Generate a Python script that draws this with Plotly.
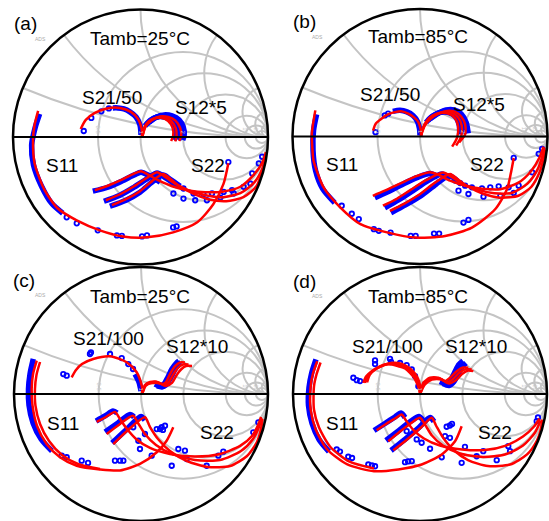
import numpy as np
import plotly.graph_objects as go

# ---------------- S-parameter data (reflection-plane values: [re, im]) ----------------
# Panel (a): Tamb = 25 C, S21/50, S12*5
a_s11_model = [(-0.803, 0.205), (-0.831, 0.094), (-0.843, -0.024), (-0.831, -0.205), (-0.752, -0.417),
               (-0.650, -0.559), (-0.500, -0.654), (-0.319, -0.732), (-0.138, -0.780), (0.051, -0.787),
               (0.256, -0.748), (0.445, -0.669), (0.571, -0.528), (0.650, -0.370), (0.689, -0.205)]
a_s11_meas_dense = [(-0.791, 0.181), (-0.827, 0.071), (-0.854, -0.063), (-0.839, -0.220), (-0.776, -0.386),
                    (-0.697, -0.520), (-0.610, -0.598)]
a_s11_meas = [(-0.579, -0.630), (-0.500, -0.677), (-0.335, -0.732), (-0.185, -0.772), (-0.146, -0.776),
              (0.012, -0.780), (0.051, -0.772), (0.256, -0.709), (0.283, -0.701), (0.689, -0.197)]
a_s22_model_1 = [(-0.358, -0.417), (-0.256, -0.382), (-0.146, -0.335), (-0.051, -0.287), (0.004, -0.268),
                 (0.059, -0.295), (0.138, -0.339), (0.248, -0.386), (0.390, -0.421), (0.508, -0.433),
                 (0.642, -0.429), (0.783, -0.390), (0.886, -0.299), (0.953, -0.205), (0.984, -0.118)]
a_s22_model_2 = [(-0.272, -0.496), (-0.161, -0.449), (-0.051, -0.386), (0.059, -0.315), (0.130, -0.276),
                 (0.185, -0.307), (0.264, -0.362), (0.374, -0.417), (0.508, -0.457), (0.642, -0.472),
                 (0.783, -0.441), (0.894, -0.354), (0.957, -0.244), (0.988, -0.126)]
a_s22_model_3 = [(-0.224, -0.535), (-0.114, -0.488), (-0.004, -0.425), (0.091, -0.346), (0.177, -0.291),
                 (0.224, -0.319), (0.295, -0.378), (0.406, -0.441), (0.531, -0.488), (0.673, -0.504),
                 (0.807, -0.472), (0.909, -0.386), (0.955, -0.268), (0.985, -0.150)]
a_s22_meas_dense_1 = [(-0.374, -0.425), (-0.256, -0.394), (-0.146, -0.346), (-0.051, -0.299), (0.004, -0.276),
                      (0.075, -0.307), (0.154, -0.354)]
a_s22_meas_dense_2 = [(-0.287, -0.504), (-0.161, -0.457), (-0.051, -0.394), (0.059, -0.323), (0.130, -0.283),
                      (0.201, -0.323), (0.280, -0.378)]
a_s22_meas_dense_3 = [(-0.240, -0.543), (-0.114, -0.496), (-0.004, -0.433), (0.091, -0.354), (0.177, -0.299),
                      (0.232, -0.331), (0.311, -0.386)]
a_s22_meas = [(0.285, -0.378), (0.337, -0.404), (0.416, -0.443), (0.494, -0.449), (0.561, -0.443),
              (0.652, -0.431), (0.718, -0.417), (0.809, -0.391), (0.876, -0.286), (0.928, -0.207),
              (0.258, -0.443), (0.337, -0.483), (0.429, -0.496), (0.521, -0.496), (0.626, -0.475),
              (0.731, -0.443), (0.862, -0.365), (0.954, -0.155)]
a_s21_model = [(-0.469, 0.063), (-0.429, 0.134), (-0.358, 0.189), (-0.264, 0.224), (-0.161, 0.228),
               (-0.075, 0.197), (-0.020, 0.142), (0.008, 0.071), (0.012, 0.008)]
a_s21_meas = [(-0.445, 0.047), (-0.386, 0.150), (-0.307, 0.201), (-0.248, 0.224)]
a_s21_meas_dense = [(-0.217, 0.228), (-0.177, 0.228), (-0.130, 0.220), (-0.083, 0.197), (-0.035, 0.157),
                    (-0.004, 0.094), (0.004, 0.016)]
a_s12_model_1 = [(0.016, 0.008), (0.028, 0.071), (0.059, 0.118), (0.106, 0.146), (0.161, 0.150),
                 (0.217, 0.126), (0.252, 0.071), (0.256, 0.008), (0.240, -0.031)]
a_s12_model_2 = [(0.016, 0.008), (0.035, 0.079), (0.075, 0.126), (0.130, 0.154), (0.185, 0.154),
                 (0.240, 0.126), (0.276, 0.071), (0.283, 0.008), (0.272, -0.035)]
a_s12_model_3 = [(0.016, 0.008), (0.043, 0.087), (0.091, 0.134), (0.154, 0.161), (0.217, 0.157),
                 (0.272, 0.130), (0.311, 0.071), (0.319, 0.008), (0.303, -0.031)]
a_s12_meas_dense_1 = [(0.035, 0.087), (0.075, 0.130), (0.130, 0.157), (0.185, 0.157), (0.240, 0.134),
                      (0.272, 0.079), (0.276, 0.016), (0.264, -0.024)]
a_s12_meas_dense_2 = [(0.051, 0.102), (0.098, 0.142), (0.154, 0.165), (0.217, 0.161), (0.272, 0.134),
                      (0.303, 0.079), (0.311, 0.016), (0.299, -0.024)]
a_s12_meas_dense_3 = [(0.067, 0.114), (0.122, 0.154), (0.185, 0.173), (0.248, 0.165), (0.303, 0.134),
                      (0.335, 0.079), (0.343, 0.016), (0.331, -0.024)]

# Panel (b): Tamb = 85 C, S21/50, S12*5
b_s11_model = [(-0.821, 0.205), (-0.848, 0.024), (-0.843, -0.110), (-0.835, -0.189), (-0.756, -0.399),
               (-0.624, -0.557), (-0.467, -0.687), (-0.250, -0.754), (-0.039, -0.793), (0.197, -0.780),
               (0.407, -0.714), (0.591, -0.569), (0.683, -0.412), (0.712, -0.291), (0.735, -0.168)]
b_s11_meas_dense = [(-0.811, 0.173), (-0.835, 0.047), (-0.839, -0.110), (-0.819, -0.268), (-0.764, -0.409),
                    (-0.669, -0.520)]
b_s11_meas = [(-0.614, -0.543), (-0.535, -0.606), (-0.480, -0.648), (-0.362, -0.727), (-0.323, -0.740),
              (-0.231, -0.754), (-0.073, -0.780), (-0.034, -0.780), (0.110, -0.761), (0.150, -0.761),
              (0.341, -0.675), (0.380, -0.654), (0.735, -0.168)]
b_s22_model_1 = [(-0.370, -0.465), (-0.276, -0.425), (-0.157, -0.370), (-0.039, -0.315), (0.079, -0.280),
                 (0.142, -0.299), (0.236, -0.346), (0.354, -0.386), (0.488, -0.409), (0.630, -0.413),
                 (0.772, -0.362), (0.874, -0.268), (0.937, -0.165), (0.969, -0.079)]
b_s22_model_2 = [(-0.291, -0.543), (-0.181, -0.488), (-0.071, -0.417), (0.055, -0.339), (0.181, -0.283),
                 (0.244, -0.315), (0.331, -0.370), (0.449, -0.417), (0.583, -0.445), (0.724, -0.441),
                 (0.843, -0.370), (0.921, -0.260), (0.961, -0.150), (0.976, -0.087)]
b_s22_model_3 = [(-0.236, -0.583), (-0.126, -0.528), (-0.008, -0.457), (0.118, -0.362), (0.236, -0.295),
                 (0.291, -0.331), (0.378, -0.394), (0.496, -0.449), (0.630, -0.480), (0.772, -0.465),
                 (0.874, -0.394), (0.937, -0.283), (0.969, -0.173), (0.980, -0.102)]
b_s22_meas_dense_1 = [(-0.354, -0.480), (-0.252, -0.433), (-0.142, -0.378), (-0.024, -0.323), (0.079, -0.291),
                      (0.142, -0.315)]
b_s22_meas_dense_2 = [(-0.276, -0.559), (-0.165, -0.496), (-0.055, -0.425), (0.063, -0.346), (0.173, -0.295),
                      (0.236, -0.331)]
b_s22_meas_dense_3 = [(-0.228, -0.598), (-0.110, -0.535), (0.008, -0.465), (0.126, -0.374), (0.228, -0.307),
                      (0.291, -0.346)]
b_s22_meas = [(0.276, -0.346), (0.315, -0.365), (0.354, -0.386), (0.407, -0.399), (0.486, -0.407),
              (0.551, -0.399), (0.617, -0.391), (0.695, -0.399), (0.774, -0.386), (0.880, -0.281),
              (0.931, -0.136), (0.302, -0.425), (0.380, -0.451), (0.498, -0.472), (0.630, -0.465),
              (0.735, -0.443), (0.958, -0.097)]
b_s21_model = [(-0.368, 0.047), (-0.346, 0.102), (-0.302, 0.139), (-0.252, 0.173), (-0.197, 0.191),
               (-0.142, 0.197), (-0.092, 0.179), (-0.047, 0.150), (-0.013, 0.113), (0.004, 0.063), (0.008, 0.008)]
b_s21_meas = [(-0.349, 0.034), (-0.276, 0.165), (-0.250, 0.179)]
b_s21_meas_dense = [(-0.213, 0.197), (-0.157, 0.205), (-0.102, 0.193), (-0.055, 0.165), (-0.020, 0.118),
                    (-0.004, 0.063), (0.000, 0.008)]
b_s12_model_1 = [(0.008, 0.008), (0.024, 0.071), (0.055, 0.126), (0.102, 0.165), (0.165, 0.185),
                 (0.228, 0.177), (0.276, 0.142), (0.299, 0.079), (0.291, -0.008), (0.252, -0.079)]
b_s12_model_2 = [(0.008, 0.008), (0.031, 0.079), (0.071, 0.134), (0.126, 0.173), (0.189, 0.193),
                 (0.252, 0.185), (0.299, 0.150), (0.327, 0.087), (0.323, 0.000), (0.283, -0.071)]
b_s12_model_3 = [(0.008, 0.008), (0.039, 0.087), (0.087, 0.142), (0.150, 0.181), (0.213, 0.201),
                 (0.276, 0.193), (0.323, 0.157), (0.354, 0.094), (0.354, 0.016), (0.307, -0.047)]
b_s12_meas_dense_1 = [(0.047, 0.110), (0.094, 0.157), (0.157, 0.189), (0.220, 0.189), (0.276, 0.157),
                      (0.307, 0.094), (0.311, 0.016)]
b_s12_meas_dense_2 = [(0.063, 0.126), (0.118, 0.169), (0.181, 0.197), (0.244, 0.197), (0.299, 0.165),
                      (0.339, 0.102), (0.346, 0.024)]
b_s12_meas_dense_3 = [(0.079, 0.138), (0.142, 0.181), (0.205, 0.209), (0.268, 0.209), (0.323, 0.177),
                      (0.362, 0.110), (0.378, 0.024)]

# Panel (c): Tamb = 25 C, S21/100, S12*10
c_s11_model_1 = [(-0.821, 0.262), (-0.850, 0.157), (-0.861, 0.039), (-0.854, -0.092), (-0.819, -0.250),
                 (-0.743, -0.394), (-0.638, -0.498), (-0.506, -0.565), (-0.323, -0.594), (-0.165, -0.602),
                 (-0.008, -0.551), (0.124, -0.459), (0.202, -0.368), (0.254, -0.262)]
c_s11_model_2 = [(-0.795, 0.252), (-0.823, 0.150), (-0.835, 0.039), (-0.831, -0.092), (-0.795, -0.236),
                 (-0.724, -0.370), (-0.622, -0.480), (-0.496, -0.551), (-0.323, -0.591)]
c_s11_meas_dense = [(-0.848, 0.276), (-0.874, 0.157), (-0.886, 0.039), (-0.882, -0.087), (-0.850, -0.228),
                    (-0.787, -0.354), (-0.701, -0.449)]
c_s11_meas = [(-0.624, -0.486), (-0.585, -0.498), (-0.467, -0.525), (-0.417, -0.543), (-0.205, -0.525),
              (-0.165, -0.525), (-0.139, -0.525), (0.124, -0.276), (0.163, -0.262), (0.189, -0.250),
              (0.173, -0.283)]
c_s22_model_1 = [(-0.349, -0.220), (-0.276, -0.181), (-0.205, -0.142), (-0.165, -0.197), (-0.110, -0.276),
                 (-0.039, -0.354), (0.071, -0.425), (0.228, -0.472), (0.425, -0.492), (0.622, -0.472),
                 (0.780, -0.409), (0.874, -0.331), (0.929, -0.228), (0.945, -0.181)]
c_s22_model_2 = [(-0.270, -0.315), (-0.165, -0.236), (-0.063, -0.171), (-0.024, -0.228), (0.031, -0.315),
                 (0.118, -0.402), (0.252, -0.476), (0.425, -0.520), (0.622, -0.520), (0.787, -0.449),
                 (0.882, -0.354), (0.929, -0.260), (0.949, -0.189)]
c_s22_model_3 = [(-0.218, -0.394), (-0.102, -0.283), (0.031, -0.183), (0.071, -0.260), (0.134, -0.354),
                 (0.228, -0.449), (0.362, -0.528), (0.528, -0.575), (0.701, -0.567), (0.835, -0.488),
                 (0.913, -0.378), (0.945, -0.276), (0.957, -0.197)]
c_s22_meas_dense_1 = [(-0.354, -0.213), (-0.283, -0.173), (-0.220, -0.134), (-0.189, -0.150)]
c_s22_meas_dense_2 = [(-0.283, -0.299), (-0.181, -0.228), (-0.087, -0.161), (-0.055, -0.181)]
c_s22_meas_dense_3 = [(-0.228, -0.386), (-0.118, -0.283), (0.000, -0.177), (0.031, -0.205)]
c_s22_meas = [(-0.061, -0.262), (-0.021, -0.368), (0.031, -0.315), (-0.008, -0.433), (0.084, -0.486),
              (0.150, -0.276), (0.242, -0.565), (0.294, -0.433), (0.346, -0.446), (0.360, -0.512),
              (0.517, -0.565), (0.609, -0.486), (0.648, -0.454), (0.884, -0.302), (0.924, -0.223)]
c_s21_model = [(-0.546, 0.131), (-0.512, 0.189), (-0.465, 0.236), (-0.376, 0.276), (-0.244, 0.297),
               (-0.113, 0.250), (-0.034, 0.171), (0.006, 0.065), (0.012, 0.008)]
c_s21_meas = [(-0.612, 0.157), (-0.585, 0.144), (-0.402, 0.315), (-0.394, 0.327), (-0.244, 0.315),
              (-0.152, 0.283), (-0.100, 0.236), (-0.063, 0.197)]
c_s21_meas_dense = [(-0.047, 0.157), (-0.016, 0.094), (0.000, 0.024)]
c_s12_model_1 = [(0.012, 0.008), (0.031, 0.071), (0.071, 0.094), (0.118, 0.098), (0.165, 0.079),
                 (0.197, 0.094), (0.228, 0.157), (0.268, 0.220), (0.307, 0.248), (0.346, 0.248)]
c_s12_model_2 = [(0.012, 0.008), (0.035, 0.071), (0.079, 0.091), (0.134, 0.091), (0.181, 0.071),
                 (0.220, 0.094), (0.252, 0.150), (0.291, 0.205), (0.331, 0.232), (0.374, 0.232)]
c_s12_model_3 = [(0.012, 0.008), (0.039, 0.067), (0.087, 0.087), (0.150, 0.083), (0.197, 0.063),
                 (0.244, 0.087), (0.276, 0.142), (0.315, 0.193), (0.354, 0.220), (0.402, 0.220)]
c_s12_meas_dense_1 = [(0.110, 0.079), (0.150, 0.063), (0.181, 0.079), (0.213, 0.134), (0.244, 0.197),
                      (0.276, 0.240), (0.299, 0.260)]
c_s12_meas_dense_2 = [(0.126, 0.063), (0.165, 0.055), (0.197, 0.071), (0.228, 0.118), (0.260, 0.181),
                      (0.291, 0.228), (0.315, 0.248)]

# Panel (d): Tamb = 85 C, S21/100, S12*10
d_s11_model_1 = [(-0.809, 0.258), (-0.843, 0.161), (-0.861, 0.061), (-0.861, -0.122), (-0.821, -0.280),
                 (-0.730, -0.437), (-0.572, -0.555), (-0.362, -0.608), (-0.171, -0.594), (0.013, -0.555),
                 (0.171, -0.476), (0.276, -0.372), (0.328, -0.254)]
d_s11_model_2 = [(-0.783, 0.248), (-0.815, 0.154), (-0.835, 0.059), (-0.835, -0.122), (-0.795, -0.264),
                 (-0.709, -0.413), (-0.559, -0.531), (-0.362, -0.587)]
d_s11_meas_dense = [(-0.819, 0.272), (-0.854, 0.161), (-0.874, 0.051), (-0.878, -0.091), (-0.850, -0.232),
                    (-0.795, -0.358), (-0.717, -0.453)]
d_s11_meas = [(-0.656, -0.437), (-0.630, -0.453), (-0.565, -0.494), (-0.535, -0.504), (-0.407, -0.555),
              (-0.378, -0.563), (-0.354, -0.569), (-0.118, -0.537), (-0.094, -0.531), (-0.065, -0.529),
              (0.210, -0.258), (0.236, -0.248), (0.252, -0.236)]
d_s22_model_1 = [(-0.341, -0.285), (-0.268, -0.236), (-0.197, -0.193), (-0.144, -0.161), (-0.110, -0.209),
                 (-0.055, -0.280), (0.031, -0.350), (0.157, -0.406), (0.331, -0.437), (0.512, -0.441),
                 (0.677, -0.406), (0.811, -0.335), (0.898, -0.256), (0.941, -0.193)]
d_s22_model_2 = [(-0.250, -0.372), (-0.157, -0.295), (-0.063, -0.224), (0.000, -0.187), (0.039, -0.240),
                 (0.094, -0.327), (0.181, -0.406), (0.315, -0.469), (0.496, -0.496), (0.669, -0.476),
                 (0.811, -0.406), (0.906, -0.303), (0.949, -0.209)]
d_s22_model_3 = [(-0.210, -0.443), (-0.102, -0.358), (0.008, -0.264), (0.092, -0.187), (0.126, -0.248),
                 (0.181, -0.343), (0.260, -0.437), (0.378, -0.520), (0.535, -0.567), (0.709, -0.555),
                 (0.843, -0.476), (0.921, -0.366), (0.953, -0.272), (0.961, -0.201)]
d_s22_meas_dense_1 = [(-0.362, -0.287), (-0.276, -0.232), (-0.197, -0.181), (-0.150, -0.150), (-0.118, -0.185)]
d_s22_meas_dense_2 = [(-0.268, -0.366), (-0.165, -0.287), (-0.071, -0.213), (-0.008, -0.177), (0.024, -0.209)]
d_s22_meas_dense_3 = [(-0.228, -0.445), (-0.118, -0.358), (-0.008, -0.264), (0.079, -0.185), (0.110, -0.217)]
d_s22_meas = [(-0.105, -0.293), (-0.026, -0.358), (0.013, -0.384), (0.079, -0.431), (0.171, -0.498),
              (0.197, -0.332), (0.236, -0.345), (0.328, -0.542), (0.354, -0.416), (0.446, -0.490),
              (0.498, -0.450), (0.604, -0.521), (0.695, -0.411), (0.709, -0.450), (0.919, -0.214),
              (0.929, -0.185)]
d_s21_model_1 = [(-0.446, 0.088), (-0.425, 0.138), (-0.380, 0.180), (-0.331, 0.209), (-0.276, 0.232),
                 (-0.220, 0.232), (-0.171, 0.219), (-0.118, 0.201), (-0.079, 0.167), (-0.047, 0.130),
                 (-0.026, 0.088), (-0.008, 0.043), (0.000, 0.008)]
d_s21_model_2 = [(-0.433, 0.088), (-0.409, 0.146), (-0.362, 0.189), (-0.307, 0.217), (-0.252, 0.236),
                 (-0.197, 0.236), (-0.150, 0.224), (-0.102, 0.201), (-0.063, 0.169), (-0.031, 0.126),
                 (-0.012, 0.075), (0.000, 0.008)]
d_s21_model_3 = [(-0.417, 0.091), (-0.394, 0.154), (-0.346, 0.197), (-0.287, 0.228), (-0.228, 0.244),
                 (-0.173, 0.244), (-0.122, 0.228), (-0.079, 0.201), (-0.043, 0.165), (-0.016, 0.122),
                 (0.000, 0.067), (0.004, 0.008)]
d_s21_meas = [(-0.525, 0.128), (-0.498, 0.109), (-0.472, 0.102), (-0.354, 0.264), (-0.354, 0.236),
              (-0.236, 0.276), (-0.228, 0.252), (-0.157, 0.244), (-0.105, 0.228), (-0.065, 0.193),
              (-0.039, 0.140), (-0.013, 0.061)]
d_s12_model_1 = [(0.004, 0.008), (0.026, 0.088), (0.079, 0.128), (0.144, 0.128), (0.197, 0.101),
                 (0.236, 0.128), (0.289, 0.180), (0.339, 0.209), (0.380, 0.206)]
d_s12_model_2 = [(0.004, 0.008), (0.031, 0.083), (0.087, 0.122), (0.157, 0.122), (0.213, 0.091),
                 (0.260, 0.118), (0.311, 0.169), (0.362, 0.197), (0.407, 0.193)]
d_s12_model_3 = [(0.004, 0.008), (0.039, 0.075), (0.094, 0.114), (0.173, 0.114), (0.228, 0.083),
                 (0.280, 0.106), (0.331, 0.157), (0.378, 0.185), (0.420, 0.180)]
d_s12_meas_dense_1 = [(0.157, 0.098), (0.205, 0.083), (0.244, 0.114), (0.276, 0.177), (0.307, 0.232),
                      (0.339, 0.260)]
d_s12_meas_dense_2 = [(0.181, 0.083), (0.228, 0.067), (0.268, 0.098), (0.299, 0.157), (0.331, 0.213),
                      (0.362, 0.244)]

# Smith chart grid values
real_grid = [0.5, 1, 2, 5, 10, 20]
imag_grid = [0.2, 0.5, 1, 2, 5, 10, 20]

# ---------------- helpers ----------------
W, H = 549, 521
BLUE = "#0000ff"
RED = "#ff0000"
GRID = "#c4c4c4"


def to_z(points):
    g = np.array([complex(r, i) for r, i in points])
    z = (1 + g) / (1 - g)
    return z.real, z.imag


fig = go.Figure()


def add_dense(sub, pts):
    re, im = to_z(pts)
    fig.add_trace(go.Scattersmith(real=re, imag=im, subplot=sub, mode="lines",
                                  line=dict(color=BLUE, width=5.5, shape="spline", smoothing=0.8),
                                  showlegend=False, hoverinfo="skip"))


def add_markers(sub, pts):
    re, im = to_z(pts)
    fig.add_trace(go.Scattersmith(real=re, imag=im, subplot=sub, mode="markers",
                                  marker=dict(symbol="circle-open", size=4.5, color=BLUE,
                                              line=dict(width=1.8, color=BLUE)),
                                  showlegend=False, hoverinfo="skip"))


def add_model(sub, pts):
    re, im = to_z(pts)
    fig.add_trace(go.Scattersmith(real=re, imag=im, subplot=sub, mode="lines",
                                  line=dict(color=RED, width=2.5, shape="spline", smoothing=0.7),
                                  showlegend=False, hoverinfo="skip"))


panels = [
    ("smith",
     [a_s11_meas_dense, a_s22_meas_dense_1, a_s22_meas_dense_2, a_s22_meas_dense_3, a_s21_meas_dense,
      a_s12_meas_dense_1, a_s12_meas_dense_2, a_s12_meas_dense_3],
     [a_s11_meas, a_s22_meas, a_s21_meas],
     [a_s11_model, a_s22_model_1, a_s22_model_2, a_s22_model_3, a_s21_model,
      a_s12_model_1, a_s12_model_2, a_s12_model_3]),
    ("smith2",
     [b_s11_meas_dense, b_s22_meas_dense_1, b_s22_meas_dense_2, b_s22_meas_dense_3, b_s21_meas_dense,
      b_s12_meas_dense_1, b_s12_meas_dense_2, b_s12_meas_dense_3],
     [b_s11_meas, b_s22_meas, b_s21_meas],
     [b_s11_model, b_s22_model_1, b_s22_model_2, b_s22_model_3, b_s21_model,
      b_s12_model_1, b_s12_model_2, b_s12_model_3]),
    ("smith3",
     [c_s11_meas_dense, c_s22_meas_dense_1, c_s22_meas_dense_2, c_s22_meas_dense_3, c_s21_meas_dense,
      c_s12_meas_dense_1, c_s12_meas_dense_2],
     [c_s11_meas, c_s22_meas, c_s21_meas],
     [c_s11_model_1, c_s11_model_2, c_s22_model_1, c_s22_model_2, c_s22_model_3, c_s21_model,
      c_s12_model_1, c_s12_model_2, c_s12_model_3]),
    ("smith4",
     [d_s11_meas_dense, d_s22_meas_dense_1, d_s22_meas_dense_2, d_s22_meas_dense_3,
      d_s12_meas_dense_1, d_s12_meas_dense_2],
     [d_s11_meas, d_s22_meas, d_s21_meas],
     [d_s11_model_1, d_s11_model_2, d_s22_model_1, d_s22_model_2, d_s22_model_3,
      d_s21_model_1, d_s21_model_2, d_s21_model_3, d_s12_model_1, d_s12_model_2, d_s12_model_3]),
]

for sub, dense, marks, models in panels:
    for p in dense:
        add_dense(sub, p)
    for p in marks:
        add_markers(sub, p)
    for p in models:
        add_model(sub, p)


def smith_layout(x0, x1, y0, y1):
    return dict(
        domain=dict(x=[x0 / W, x1 / W], y=[1 - y1 / H, 1 - y0 / H]),
        bgcolor="white",
        realaxis=dict(tickvals=real_grid, showgrid=True, gridcolor=GRID, gridwidth=1.6,
                      showline=True, linecolor="black", linewidth=2, ticks="",
                      showticklabels=True, tickfont=dict(size=6, color="#c8c8c8", family="Arial")),
        imaginaryaxis=dict(tickvals=imag_grid, showgrid=True, gridcolor=GRID, gridwidth=1.6,
                           showline=True, linecolor="black", linewidth=2.5, ticks="",
                           showticklabels=False),
    )


# pixel boxes of the four charts
boxes = {
    "smith": (13, 268, 9.5, 264.5),
    "smith2": (292.5, 547.5, 9, 264),
    "smith3": (14, 268, 267, 521),
    "smith4": (293, 547, 267, 521),
}

annotations = []


def ann(text, px, py, size=19, color="black"):
    annotations.append(dict(text=text, x=px / W, y=1 - py / H, xref="paper", yref="paper",
                            xanchor="center", yanchor="middle", showarrow=False,
                            font=dict(size=size, color=color, family="Arial, Liberation Sans")))


# panel (a)
ann("(a)", 25, 23); ann("Tamb=25°C", 140, 39); ann("S21/50", 112, 97); ann("S12*5", 201, 107)
ann("S11", 62, 165); ann("S22", 208, 165); ann("ADS", 40, 39, 5, "#aaaaaa")
# panel (b)
ann("(b)", 304, 22); ann("Tamb=85°C", 418, 36); ann("S21/50", 390, 95); ann("S12*5", 479, 104)
ann("S11", 342, 164); ann("S22", 487, 164); ann("ADS", 317, 37, 5, "#aaaaaa")
# panel (c)
ann("(c)", 24, 280); ann("Tamb=25°C", 140, 296); ann("S21/100", 108, 338); ann("S12*10", 197, 347)
ann("S11", 63, 423); ann("S22", 217, 432); ann("ADS", 40, 295, 5, "#aaaaaa")
# panel (d)
ann("(d)", 304, 281); ann("Tamb=85°C", 418, 296); ann("S21/100", 387, 347); ann("S12*10", 476, 347)
ann("S11", 342, 423); ann("S22", 495, 432); ann("ADS", 317, 296, 5, "#aaaaaa")

fig.update_layout(
    width=W, height=H,
    margin=dict(l=0, r=0, t=0, b=0),
    paper_bgcolor="white",
    showlegend=False,
    annotations=annotations,
    smith=smith_layout(*boxes["smith"]),
    smith2=smith_layout(*boxes["smith2"]),
    smith3=smith_layout(*boxes["smith3"]),
    smith4=smith_layout(*boxes["smith4"]),
)

fig.write_html("out.html")
